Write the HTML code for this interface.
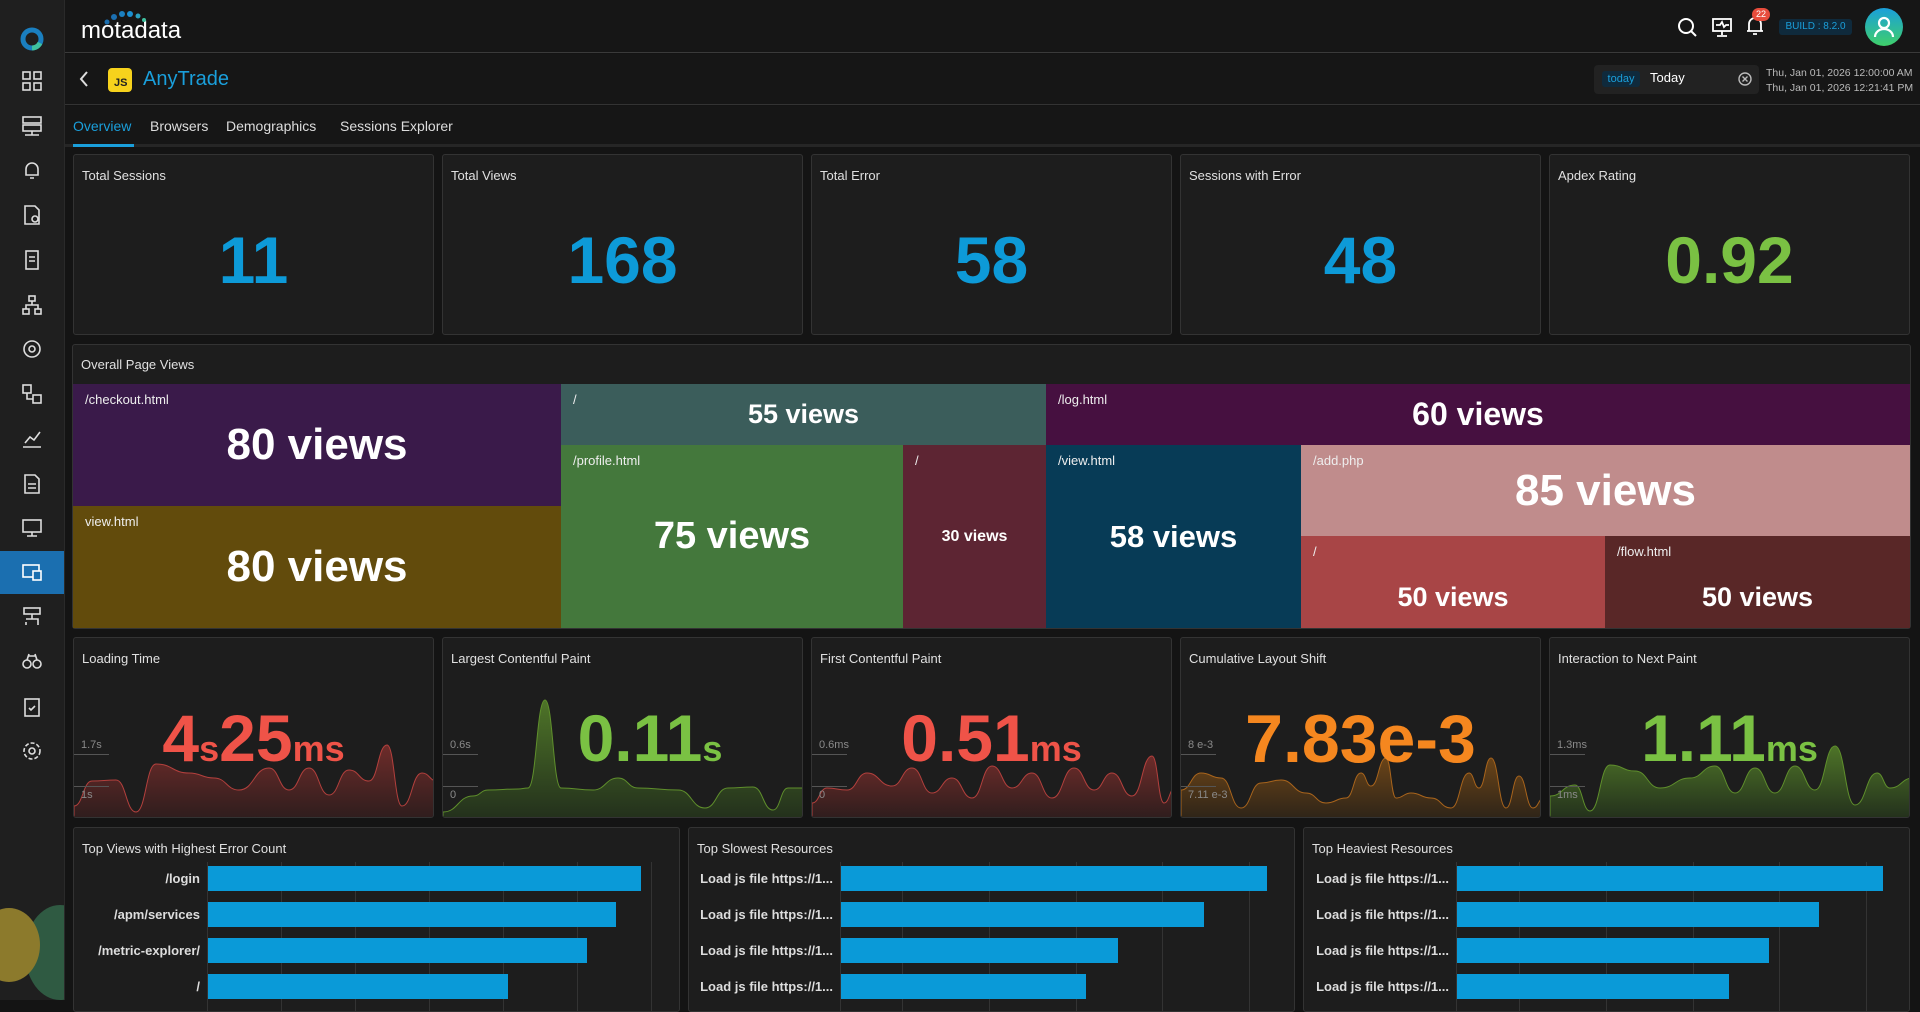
<!DOCTYPE html>
<html><head><meta charset="utf-8">
<style>
*{box-sizing:border-box;margin:0;padding:0}
body{width:1920px;height:1000px;overflow:hidden;background:#141414;font-family:"Liberation Sans",sans-serif;color:#ddd;position:relative}
.side{position:absolute;left:0;top:0;width:65px;height:1000px;background:#1f1f1f;overflow:hidden;border-right:1px solid #2a2a2a}
.side .ic{position:absolute;left:21px;width:22px;height:22px}
.side .act{position:absolute;left:0;top:551px;width:65px;height:43px;background:#1b6fb0}
.top{position:absolute;left:65px;top:0;right:0;height:53px;background:#161616;border-bottom:1px solid #3a3a3a}
.hdr{position:absolute;left:65px;top:54px;right:0;height:51px;background:#161616;border-bottom:1px solid #333}
.tabs{position:absolute;left:65px;top:106px;right:0;height:41px;background:#161616;border-bottom:3px solid #262626}
.tab{position:absolute;top:12px;font-size:14px;color:#ddd}
.row{position:absolute;left:73px;width:1837px;display:flex;gap:8px}
.card{flex:1;background:#1d1d1d;border:1px solid #333;border-radius:3px;position:relative;overflow:hidden}
.ttl{position:absolute;left:8px;top:13px;font-size:13px;color:#e0e0e0}
.kpi{position:absolute;left:0;right:0;top:72px;text-align:center;font-size:66px;font-weight:bold;line-height:1;color:#0d9ad8}
.met{position:absolute;left:0;right:0;top:67px;text-align:center;font-weight:bold;line-height:1;font-size:66px}
.met small{font-size:36px}
.ax{position:absolute;left:7px;font-size:11px;color:#8a8a8a}
.axl{position:absolute;left:0;width:35px;height:1px;background:#555}
.tm{position:absolute;color:#fff}
.tm .l{position:absolute;left:12px;top:8px;font-size:13px;color:#eee}
.tm .v{position:absolute;inset:0;display:flex;align-items:center;justify-content:center;font-weight:bold}
.bar{position:absolute;height:25px;background:#0a9ad8}
.grid{position:absolute;top:34px;bottom:0;width:1px;background:#333}
.lbl{position:absolute;font-size:13px;font-weight:bold;color:#ddd;text-align:right;width:200px}
</style></head><body>

<div class="side">
  <svg class="ic" style="top:26px;left:19px;width:26px;height:26px" viewBox="0 0 26 26"><circle cx="13" cy="13" r="9" fill="none" stroke="#1a7fc0" stroke-width="5"/><path d="M13 22a9 9 0 0 0 8-5" stroke="#3fc1a0" stroke-width="5" fill="none"/></svg>
  <svg class="ic" style="top:70px" viewBox="0 0 22 22" fill="none" stroke="#ddd" stroke-width="1.6"><rect x="2" y="2" width="7" height="7"/><rect x="13" y="2" width="7" height="7"/><rect x="2" y="13" width="7" height="7"/><rect x="13" y="13" width="7" height="7"/></svg>
  <svg class="ic" style="top:115px" viewBox="0 0 22 22" fill="none" stroke="#ddd" stroke-width="1.6"><rect x="2" y="2" width="18" height="6"/><rect x="2" y="10" width="18" height="6"/><path d="M11 16v4M4 20h14"/></svg>
  <svg class="ic" style="top:159px" viewBox="0 0 22 22" fill="none" stroke="#ddd" stroke-width="1.6"><path d="M5 16V10a6 6 0 0 1 12 0v6H5zM9 19h4"/></svg>
  <svg class="ic" style="top:204px" viewBox="0 0 22 22" fill="none" stroke="#ddd" stroke-width="1.6"><path d="M4 2h10l4 4v14H4z"/><circle cx="14" cy="15" r="3"/></svg>
  <svg class="ic" style="top:249px" viewBox="0 0 22 22" fill="none" stroke="#ddd" stroke-width="1.6"><rect x="5" y="2" width="12" height="18"/><path d="M8 8h6M8 12h6"/></svg>
  <svg class="ic" style="top:294px" viewBox="0 0 22 22" fill="none" stroke="#ddd" stroke-width="1.6"><rect x="8" y="2" width="6" height="5"/><rect x="2" y="15" width="6" height="5"/><rect x="14" y="15" width="6" height="5"/><path d="M11 7v4M5 15v-4h12v4"/></svg>
  <svg class="ic" style="top:338px" viewBox="0 0 22 22" fill="none" stroke="#ddd" stroke-width="1.6"><circle cx="11" cy="11" r="8"/><circle cx="11" cy="11" r="3"/></svg>
  <svg class="ic" style="top:383px" viewBox="0 0 22 22" fill="none" stroke="#ddd" stroke-width="1.6"><rect x="2" y="2" width="8" height="8"/><rect x="12" y="12" width="8" height="8"/><path d="M6 10v6h6"/></svg>
  <svg class="ic" style="top:427px" viewBox="0 0 22 22" fill="none" stroke="#ddd" stroke-width="1.6"><path d="M2 20h18M4 16l5-6 4 3 6-8"/></svg>
  <svg class="ic" style="top:473px" viewBox="0 0 22 22" fill="none" stroke="#ddd" stroke-width="1.6"><path d="M4 2h10l4 4v14H4z"/><path d="M7 11h8M7 15h8"/></svg>
  <svg class="ic" style="top:517px" viewBox="0 0 22 22" fill="none" stroke="#ddd" stroke-width="1.6"><rect x="2" y="3" width="18" height="12"/><path d="M11 15v4M6 19h10"/></svg>
  <div class="act"></div>
  <svg class="ic" style="top:561px" viewBox="0 0 22 22" fill="none" stroke="#fff" stroke-width="1.6"><rect x="2" y="4" width="16" height="12"/><rect x="12" y="10" width="8" height="9" fill="#1b6fb0"/></svg>
  <svg class="ic" style="top:606px" viewBox="0 0 22 22" fill="none" stroke="#ddd" stroke-width="1.6"><rect x="3" y="2" width="16" height="6"/><path d="M11 8v5M5 13h12v3M5 16v3M17 16v3"/></svg>
  <svg class="ic" style="top:650px" viewBox="0 0 22 22" fill="none" stroke="#ddd" stroke-width="1.6"><circle cx="6" cy="14" r="4"/><circle cx="16" cy="14" r="4"/><path d="M8 6h6M6 10l2-6M16 10l-2-6"/></svg>
  <svg class="ic" style="top:696px" viewBox="0 0 22 22" fill="none" stroke="#ddd" stroke-width="1.6"><rect x="4" y="3" width="14" height="17"/><path d="M8 12l2 2 4-4"/></svg>
  <svg class="ic" style="top:740px" viewBox="0 0 22 22" fill="none" stroke="#ddd" stroke-width="1.6"><circle cx="11" cy="11" r="3"/><circle cx="11" cy="11" r="8" stroke-dasharray="4 2"/></svg>
  <div style="position:absolute;left:25px;top:905px;width:70px;height:95px;border-radius:50%;background:#2f5a42"></div>
  <div style="position:absolute;left:-22px;top:908px;width:62px;height:74px;border-radius:50%;background:#8c7a2c"></div>
</div>

<div class="top">
  <div style="position:absolute;left:16px;top:17px;font-size:24px;color:#fff">motadata</div>
  <svg style="position:absolute;left:36px;top:10px" width="55" height="16"><circle cx="6" cy="12" r="2.5" fill="#1b6fb0"/><circle cx="13" cy="7" r="3" fill="#1b6fb0"/><circle cx="21" cy="4" r="3" fill="#1b80c0"/><circle cx="29" cy="4" r="3" fill="#1b8fd0"/><circle cx="37" cy="6" r="2.5" fill="#2aa0c0"/><circle cx="43" cy="10" r="2" fill="#3fc1a0"/></svg>
  <svg style="position:absolute;left:1612px;top:17px" width="20" height="20" fill="none" stroke="#fff" stroke-width="2"><circle cx="9" cy="9" r="7"/><path d="M14 14l5 5"/></svg>
  <svg style="position:absolute;left:1647px;top:17px" width="20" height="20" fill="none" stroke="#fff" stroke-width="1.8"><rect x="1" y="2" width="18" height="12"/><path d="M4 8h4l2-3 2 5 2-2h3M10 14v4M5 19h10"/></svg>
  <svg style="position:absolute;left:1680px;top:15px" width="20" height="22" fill="none" stroke="#fff" stroke-width="1.8"><path d="M4 16V9a6 6 0 0 1 12 0v7zM2 16h16M8 19h4"/></svg>
  <div style="position:absolute;left:1687px;top:8px;width:18px;height:13px;border-radius:7px;background:#e74c3c;color:#fff;font-size:9px;text-align:center;line-height:13px">22</div>
  <div style="position:absolute;left:1714px;top:19px;width:73px;height:16px;border-radius:3px;background:#0f2a3c;color:#1a9fdb;font-size:10px;text-align:center;line-height:16px">BUILD : 8.2.0</div>
  <div style="position:absolute;left:1800px;top:8px;width:38px;height:38px;border-radius:50%;background:linear-gradient(#1a9fdb,#3fcf6a)"></div>
  <svg style="position:absolute;left:1808px;top:15px" width="22" height="24" fill="none" stroke="#fff" stroke-width="2.2"><circle cx="11" cy="8" r="5"/><path d="M2 22a9 8 0 0 1 18 0"/></svg>
</div>

<div class="hdr">
  <svg style="position:absolute;left:14px;top:17px" width="10" height="16" fill="none" stroke="#ddd" stroke-width="2"><path d="M8 1L2 8l6 7"/></svg>
  <div style="position:absolute;left:43px;top:14px;width:24px;height:24px;border-radius:4px;background:#f7d21c;color:#222;font-size:11px;font-weight:bold;padding:9px 0 0 6px">JS</div>
  <div style="position:absolute;left:78px;top:14px;font-size:20px;color:#1a9fdb">AnyTrade</div>
  <div style="position:absolute;left:1529px;top:11px;width:165px;height:29px;border-radius:4px;background:#222"></div>
  <div style="position:absolute;left:1537px;top:17px;width:38px;height:16px;border-radius:3px;background:#0f2a3c;color:#1a9fdb;font-size:11px;text-align:center;line-height:16px">today</div>
  <div style="position:absolute;left:1585px;top:16px;font-size:13px;color:#fff">Today</div>
  <svg style="position:absolute;left:1673px;top:18px" width="14" height="14" fill="none" stroke="#bbb" stroke-width="1.4"><circle cx="7" cy="7" r="6"/><path d="M4.5 4.5l5 5M9.5 4.5l-5 5"/></svg>
  <div style="position:absolute;left:1701px;top:12px;font-size:10.5px;color:#bbb;line-height:15px">Thu, Jan 01, 2026 12:00:00 AM<br>Thu, Jan 01, 2026 12:21:41 PM</div>
</div>

<div class="tabs">
  <div class="tab" style="left:8px;color:#1a9fdb">Overview</div>
  <div style="position:absolute;left:8px;top:38px;width:61px;height:3px;background:#1a9fdb"></div>
  <div class="tab" style="left:85px">Browsers</div>
  <div class="tab" style="left:161px">Demographics</div>
  <div class="tab" style="left:275px">Sessions Explorer</div>
</div>

<div class="row" style="top:154px;height:181px">
  <div class="card"><div class="ttl">Total Sessions</div><div class="kpi">11</div></div>
  <div class="card"><div class="ttl">Total Views</div><div class="kpi">168</div></div>
  <div class="card"><div class="ttl">Total Error</div><div class="kpi">58</div></div>
  <div class="card"><div class="ttl">Sessions with Error</div><div class="kpi">48</div></div>
  <div class="card"><div class="ttl">Apdex Rating</div><div class="kpi" style="color:#7ac143">0.92</div></div>
</div>

<div class="card" style="position:absolute;left:72px;top:344px;width:1839px;height:285px">
  <div class="ttl" style="top:12px">Overall Page Views</div>
</div>
<div class="tm" style="left:73px;top:384px;width:488px;height:122px;background:#3a1a4a"><div class="l">/checkout.html</div><div class="v" style="font-size:44px">80 views</div></div>
<div class="tm" style="left:73px;top:506px;width:488px;height:122px;background:#624b0c"><div class="l">view.html</div><div class="v" style="font-size:44px">80 views</div></div>
<div class="tm" style="left:561px;top:384px;width:485px;height:61px;background:#3b5d5b"><div class="l">/</div><div class="v" style="font-size:27px">55 views</div></div>
<div class="tm" style="left:561px;top:445px;width:342px;height:183px;background:#44783c"><div class="l">/profile.html</div><div class="v" style="font-size:38px">75 views</div></div>
<div class="tm" style="left:903px;top:445px;width:143px;height:183px;background:#5d2533"><div class="l">/</div><div class="v" style="font-size:16px">30 views</div></div>
<div class="tm" style="left:1046px;top:384px;width:864px;height:61px;background:#461040"><div class="l">/log.html</div><div class="v" style="font-size:32px">60 views</div></div>
<div class="tm" style="left:1046px;top:445px;width:255px;height:183px;background:#073b56"><div class="l">/view.html</div><div class="v" style="font-size:31px">58 views</div></div>
<div class="tm" style="left:1301px;top:445px;width:609px;height:91px;background:#c08c8c"><div class="l">/add.php</div><div class="v" style="font-size:44px">85 views</div></div>
<div class="tm" style="left:1301px;top:536px;width:304px;height:92px;background:#a84546"><div class="l">/</div><div class="v" style="font-size:27px;padding-top:30px">50 views</div></div>
<div class="tm" style="left:1605px;top:536px;width:305px;height:92px;background:#592727"><div class="l">/flow.html</div><div class="v" style="font-size:27px;padding-top:30px">50 views</div></div>

<svg width="0" height="0" style="position:absolute"><defs>
<linearGradient id="gr" x1="0" y1="0" x2="0" y2="1"><stop offset="0" stop-color="#6e2c2a"/><stop offset="1" stop-color="#2e1d1d"/></linearGradient>
<linearGradient id="gg" x1="0" y1="0" x2="0" y2="1"><stop offset="0" stop-color="#4e7428"/><stop offset="1" stop-color="#23301c"/></linearGradient>
<linearGradient id="go" x1="0" y1="0" x2="0" y2="1"><stop offset="0" stop-color="#6a4418"/><stop offset="1" stop-color="#2e2418"/></linearGradient>
</defs></svg>

<div class="row" style="top:637px;height:181px">
  <div class="card"><div class="ttl">Loading Time</div>
    <svg style="position:absolute;left:0;top:0" width="363" height="181"><path d="M0 168 C9 168 9 143 18 143 C30 143 30 142 42 142 C52 142 52 174 62 174 C72 174 72 126 82 126 C98.5 126 98.5 135 115 135 C127.5 135 127.5 140 140 140 C152.5 140 152.5 152 165 152 C180 152 180 130 195 130 C205 130 205 152 215 152 C225 152 225 130 235 130 C245 130 245 157 255 157 C265 157 265 132 275 132 C285 132 285 143 295 143 C304 143 304 107 313 107 C320.5 107 320.5 168 328 168 C338 168 338 135 348 135 C355.5 135 355.5 143 363 143 L363 181 L0 181Z" fill="url(#gr)" stroke="#b3403d" stroke-width="1"/></svg>
    <div class="axl" style="top:116px"></div><div class="axl" style="top:148px"></div>
    <div class="ax" style="top:101px">1.7s</div><div class="ax" style="top:151px">1s</div>
    <div class="met" style="color:#ef5348">4<small>s</small>25<small>ms</small></div></div>
  <div class="card"><div class="ttl">Largest Contentful Paint</div>
    <svg style="position:absolute;left:0;top:0" width="363" height="181"><path d="M0 174 C15 174 15 158 30 158 C37.5 158 37.5 152 45 152 C60 152 60 151 75 151 C80 151 80 150 85 150 C93.5 150 93.5 62 102 62 C110 62 110 150 118 150 C134 150 134 152 150 152 C162.5 152 162.5 140 175 140 C185 140 185 150 195 150 C215 150 215 152 235 152 C248.5 152 248.5 170 262 170 C273.5 170 273.5 150 285 150 C297.5 150 297.5 149 310 149 C320 149 320 172 330 172 C337.5 172 337.5 150 345 150 C354 150 354 150 363 150 L363 181 L0 181Z" fill="url(#gg)" stroke="#5f8f2c" stroke-width="1"/></svg>
    <div class="axl" style="top:116px"></div><div class="axl" style="top:148px"></div>
    <div class="ax" style="top:101px">0.6s</div><div class="ax" style="top:151px">0</div>
    <div class="met" style="color:#7ac143;padding-left:55px">0.11<small>s</small></div></div>
  <div class="card"><div class="ttl">First Contentful Paint</div>
    <svg style="position:absolute;left:0;top:0" width="363" height="181"><path d="M0 165 C7.5 165 7.5 150 15 150 C25 150 25 152 35 152 C45 152 45 135 55 135 C67.5 135 67.5 148 80 148 C90 148 90 130 100 130 C110 130 110 155 120 155 C130 155 130 140 140 140 C150 140 150 160 160 160 C170 160 170 128 180 128 C190 128 190 150 200 150 C210 150 210 135 220 135 C230 135 230 160 240 160 C251 160 251 130 262 130 C272 130 272 152 282 152 C291 152 291 135 300 135 C310 135 310 158 320 158 C330 158 330 118 340 118 C346 118 346 165 352 165 C357.5 165 357.5 150 363 150 L363 181 L0 181Z" fill="url(#gr)" stroke="#b3403d" stroke-width="1"/></svg>
    <div class="axl" style="top:116px"></div><div class="axl" style="top:148px"></div>
    <div class="ax" style="top:101px">0.6ms</div><div class="ax" style="top:151px">0</div>
    <div class="met" style="color:#ef5348">0.51<small>ms</small></div></div>
  <div class="card"><div class="ttl">Cumulative Layout Shift</div>
    <svg style="position:absolute;left:0;top:0" width="363" height="181"><path d="M0 152 C10 152 10 135 20 135 C30 135 30 140 40 140 C50 140 50 170 60 170 C70 170 70 145 80 145 C90 145 90 142 100 142 C112.5 142 112.5 155 125 155 C135 155 135 165 145 165 C155 165 155 160 165 160 C172.5 160 172.5 135 180 135 C185 135 185 148 190 148 C197.5 148 197.5 120 205 120 C210 120 210 160 215 160 C222.5 160 222.5 155 230 155 C240 155 240 160 250 160 C260 160 260 170 270 170 C279 170 279 135 288 135 C293 135 293 150 298 150 C304 150 304 120 310 120 C317.5 120 317.5 170 325 170 C331.5 170 331.5 138 338 138 C345 138 345 170 352 170 C357.5 170 357.5 160 363 160 L363 181 L0 181Z" fill="url(#go)" stroke="#a8641c" stroke-width="1"/></svg>
    <div class="axl" style="top:116px"></div><div class="axl" style="top:148px"></div>
    <div class="ax" style="top:101px">8 e-3</div><div class="ax" style="top:151px">7.11 e-3</div>
    <div class="met" style="color:#f5871f;font-size:68px">7.83e-3</div></div>
  <div class="card"><div class="ttl">Interaction to Next Paint</div>
    <svg style="position:absolute;left:0;top:0" width="363" height="181"><path d="M0 158 C12.5 158 12.5 147 25 147 C32.5 147 32.5 173 40 173 C50 173 50 127 60 127 C72.5 127 72.5 133 85 133 C97.5 133 97.5 150 110 150 C125 150 125 140 140 140 C152.5 140 152.5 128 165 128 C175 128 175 155 185 155 C195 155 195 130 205 130 C215 130 215 155 225 155 C235 155 235 128 245 128 C255 128 255 152 265 152 C275 152 275 108 285 108 C295 108 295 167 305 167 C316 167 316 135 327 135 C333.5 135 333.5 150 340 150 C351.5 150 351.5 140 363 140 L363 181 L0 181Z" fill="url(#gg)" stroke="#5f8f2c" stroke-width="1"/></svg>
    <div class="axl" style="top:116px"></div><div class="axl" style="top:148px"></div>
    <div class="ax" style="top:101px">1.3ms</div><div class="ax" style="top:151px">1ms</div>
    <div class="met" style="color:#7ac143">1.11<small>ms</small></div></div>
</div>

<div class="row" style="top:827px;height:185px">
  <div class="card"><div class="ttl">Top Views with Highest Error Count</div>
    <div class="grid" style="left:133px"></div><div class="grid" style="left:207px"></div><div class="grid" style="left:281px"></div><div class="grid" style="left:355px"></div><div class="grid" style="left:429px"></div><div class="grid" style="left:503px"></div><div class="grid" style="left:577px"></div>
    <div class="bar" style="left:134px;top:38px;width:433px"></div>
    <div class="bar" style="left:134px;top:74px;width:408px"></div>
    <div class="bar" style="left:134px;top:110px;width:379px"></div>
    <div class="bar" style="left:134px;top:146px;width:300px"></div>
    <div class="lbl" style="left:-74px;top:43px">/login</div>
    <div class="lbl" style="left:-74px;top:79px">/apm/services</div>
    <div class="lbl" style="left:-74px;top:115px">/metric-explorer/</div>
    <div class="lbl" style="left:-74px;top:151px">/</div>
  </div>
  <div class="card"><div class="ttl">Top Slowest Resources</div>
    <div class="grid" style="left:151px"></div><div class="grid" style="left:213px"></div><div class="grid" style="left:300px"></div><div class="grid" style="left:387px"></div><div class="grid" style="left:473px"></div><div class="grid" style="left:560px"></div>
    <div class="bar" style="left:152px;top:38px;width:426px"></div>
    <div class="bar" style="left:152px;top:74px;width:363px"></div>
    <div class="bar" style="left:152px;top:110px;width:277px"></div>
    <div class="bar" style="left:152px;top:146px;width:245px"></div>
    <div class="lbl" style="left:-56px;top:43px">Load js file https://1...</div>
    <div class="lbl" style="left:-56px;top:79px">Load js file https://1...</div>
    <div class="lbl" style="left:-56px;top:115px">Load js file https://1...</div>
    <div class="lbl" style="left:-56px;top:151px">Load js file https://1...</div>
  </div>
  <div class="card"><div class="ttl">Top Heaviest Resources</div>
    <div class="grid" style="left:152px"></div><div class="grid" style="left:215px"></div><div class="grid" style="left:302px"></div><div class="grid" style="left:389px"></div><div class="grid" style="left:475px"></div><div class="grid" style="left:562px"></div>
    <div class="bar" style="left:153px;top:38px;width:426px"></div>
    <div class="bar" style="left:153px;top:74px;width:362px"></div>
    <div class="bar" style="left:153px;top:110px;width:312px"></div>
    <div class="bar" style="left:153px;top:146px;width:272px"></div>
    <div class="lbl" style="left:-55px;top:43px">Load js file https://1...</div>
    <div class="lbl" style="left:-55px;top:79px">Load js file https://1...</div>
    <div class="lbl" style="left:-55px;top:115px">Load js file https://1...</div>
    <div class="lbl" style="left:-55px;top:151px">Load js file https://1...</div>
  </div>
</div>
</body></html>
